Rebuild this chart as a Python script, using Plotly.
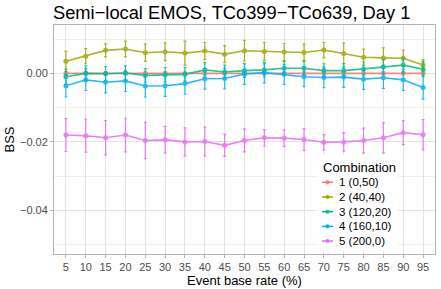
import plotly.graph_objects as go

base_rate = ["5", "10", "15", "20", "25", "30", "35", "40", "45", "50",
             "55", "60", "65", "70", "75", "80", "85", "90", "95"]

names = ["1 (0,50)", "2 (40,40)", "3 (120,20)", "4 (160,10)", "5 (200,0)"]
colors = ["#F8766D", "#A3A500", "#00BF7D", "#00B0F6", "#E76BF3"]
legend_title = "Combination"

bss_1 = [0.0] * 19
err_1 = [0.0003] * 19

bss_2 = [0.0035, 0.0050, 0.0067, 0.0071, 0.0060, 0.0063, 0.0059, 0.0065, 0.0056, 0.0066,
         0.0064, 0.0062, 0.0061, 0.0068, 0.0058, 0.0047, 0.0045, 0.0044, 0.0024]
err_2 = [0.0030, 0.0022, 0.0019, 0.0023, 0.0025, 0.0026, 0.0035, 0.0025, 0.0025, 0.0030,
         0.0026, 0.0025, 0.0024, 0.0022, 0.0030, 0.0024, 0.0029, 0.0024, 0.0016]

bss_3 = [-0.0010, 0.0000, -0.0001, 0.0001, -0.0006, -0.0004, -0.0003, 0.0010, 0.0004, 0.0008,
         0.0010, 0.0015, 0.0015, 0.0008, 0.0008, 0.0013, 0.0019, 0.0024, 0.0012]
err_3 = [0.0022, 0.0022, 0.0021, 0.0021, 0.0020, 0.0021, 0.0020, 0.0021, 0.0020, 0.0020,
         0.0020, 0.0020, 0.0020, 0.0020, 0.0020, 0.0020, 0.0021, 0.0021, 0.0022]

bss_4 = [-0.0036, -0.0019, -0.0026, -0.0022, -0.0037, -0.0036, -0.0030, -0.0016, -0.0015, -0.0002,
         0.0002, -0.0003, -0.0010, -0.0012, -0.0011, -0.0017, -0.0013, -0.0019, -0.0041]
err_4 = [0.0033, 0.0031, 0.0031, 0.0031, 0.0032, 0.0031, 0.0031, 0.0030, 0.0030, 0.0030,
         0.0030, 0.0029, 0.0029, 0.0030, 0.0030, 0.0030, 0.0031, 0.0031, 0.0034]

bss_5 = [-0.0180, -0.0182, -0.0188, -0.0180, -0.0196, -0.0194, -0.0200, -0.0199, -0.0210, -0.0196,
         -0.0188, -0.0189, -0.0193, -0.0201, -0.0200, -0.0196, -0.0188, -0.0173, -0.0179]
err_5 = [0.0048, 0.0048, 0.0050, 0.0049, 0.0053, 0.0039, 0.0041, 0.0042, 0.0032, 0.0033,
         0.0024, 0.0024, 0.0032, 0.0022, 0.0027, 0.0036, 0.0044, 0.0035, 0.0044]

series = [(bss_1, err_1), (bss_2, err_2), (bss_3, err_3), (bss_4, err_4), (bss_5, err_5)]

W, H = 441, 289
L, R, T, B = 54, 6, 25, 35
PW, PH = W - L - R, H - T - B


def px(x):
    return (x - L) / PW


def py(y):
    return (H - B - y) / PH


font_family = "Liberation Sans, Arial, Helvetica, sans-serif"

fig = go.Figure()
for (vals, errs), name, col in zip(series, names, colors):
    fig.add_trace(go.Scatter(
        x=base_rate, y=vals, name=name, mode="lines+markers",
        line=dict(color=col, width=1.6),
        marker=dict(color=col, size=5),
        opacity=0.85,
        showlegend=False,
        error_y=dict(type="data", array=errs, visible=True, color=col,
                     thickness=1.2, width=1.5),
    ))

# Legend box (drawn by hand to match the compact ggplot legend)
shapes = [dict(type="rect", xref="paper", yref="paper",
               x0=px(317), x1=px(398), y0=py(251), y1=py(155),
               fillcolor="white", line=dict(width=0), layer="above")]
annotations = [dict(text=legend_title, xref="paper", yref="paper",
                    x=px(321), y=py(167), xanchor="left", yanchor="middle",
                    showarrow=False, font=dict(size=13, color="black", family=font_family))]
item_y = [182.3, 197.0, 211.7, 226.4, 241.0]
for name, col, yy in zip(names, colors, item_y):
    shapes.append(dict(type="line", xref="paper", yref="paper",
                       x0=px(322), x1=px(333), y0=py(yy), y1=py(yy),
                       line=dict(color=col, width=1.5), layer="above"))
    shapes.append(dict(type="circle", xref="paper", yref="paper",
                       x0=px(325.7), x1=px(329.3), y0=py(yy + 1.8), y1=py(yy - 1.8),
                       fillcolor=col, line=dict(color=col, width=0.5), layer="above"))
    annotations.append(dict(text=name, xref="paper", yref="paper",
                            x=px(337), y=py(yy), xanchor="left", yanchor="middle",
                            showarrow=False,
                            font=dict(size=11.5, color="black", family=font_family)))

fig.update_layout(
    width=W, height=H,
    margin=dict(l=L, r=R, t=T, b=B),
    paper_bgcolor="white", plot_bgcolor="white",
    font=dict(family=font_family, size=11, color="#4D4D4D"),
    title=dict(text="Semi\u2212local EMOS, TCo399\u2212TCo639, Day 1",
               x=53 / W, xanchor="left", xref="container",
               y=1 - 19 / H, yanchor="bottom", yref="container",
               font=dict(size=18.3, color="black", family=font_family)),
    showlegend=False,
    shapes=shapes,
    annotations=annotations,
)

fig.update_xaxes(
    type="category", range=[-0.6, 18.6], automargin=False,
    showgrid=True, gridcolor="#E3E3E3", gridwidth=1,
    showline=True, linecolor="#B3B3B3", linewidth=1, mirror=True,
    ticks="outside", ticklen=3, tickcolor="#B3B3B3",
    tickfont=dict(size=11, color="#4D4D4D"),
    title=dict(text="Event base rate (%)", font=dict(size=13, color="black"), standoff=2),
    zeroline=False,
)

fig.update_yaxes(
    range=[-0.0527, 0.0141], automargin=False,
    tickvals=[0.0, -0.02, -0.04], ticktext=["0.00", "\u22120.02", "\u22120.04"],
    showgrid=True, gridcolor="#E3E3E3", gridwidth=1,
    minor=dict(tickvals=[0.01, -0.01, -0.03, -0.05], showgrid=True,
               gridcolor="#EFEFEF", gridwidth=0.6),
    showline=True, linecolor="#B3B3B3", linewidth=1, mirror=True,
    ticks="outside", ticklen=3, tickcolor="#B3B3B3",
    tickfont=dict(size=11, color="#4D4D4D"),
    title=dict(text="BSS", font=dict(size=13, color="black"), standoff=2),
    zeroline=False,
)

fig.write_html("out.html", config={"displayModeBar": False},
               post_script="document.body.style.margin='0px';")
